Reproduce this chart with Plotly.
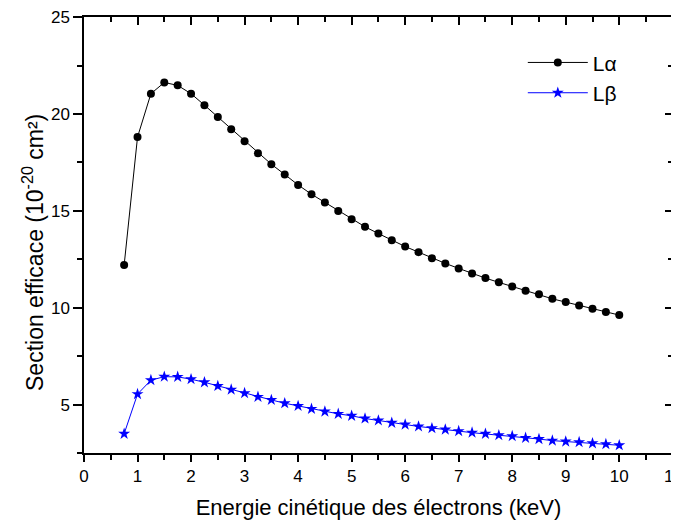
import plotly.graph_objects as go

energy = [0.75, 1.0, 1.25, 1.5, 1.75, 2.0, 2.25, 2.5, 2.75, 3.0, 3.25, 3.5, 3.75, 4.0,
          4.25, 4.5, 4.75, 5.0, 5.25, 5.5, 5.75, 6.0, 6.25, 6.5, 6.75, 7.0, 7.25, 7.5,
          7.75, 8.0, 8.25, 8.5, 8.75, 9.0, 9.25, 9.5, 9.75, 10.0]

l_alpha = [12.2, 18.81, 21.05, 21.63, 21.48, 21.05, 20.46, 19.85, 19.21, 18.59, 17.97,
           17.41, 16.88, 16.34, 15.86, 15.43, 15.0, 14.57, 14.18, 13.83, 13.49, 13.16,
           12.87, 12.56, 12.29, 12.03, 11.77, 11.53, 11.31, 11.1, 10.88, 10.69, 10.46,
           10.29, 10.12, 9.95, 9.78, 9.62]

l_beta = [3.49, 5.54, 6.26, 6.44, 6.43, 6.31, 6.15, 5.96, 5.77, 5.59, 5.40, 5.24, 5.07,
          4.93, 4.78, 4.64, 4.52, 4.42, 4.28, 4.18, 4.06, 3.97, 3.87, 3.78, 3.71, 3.63,
          3.55, 3.49, 3.42, 3.37, 3.28, 3.22, 3.14, 3.09, 3.06, 3.0, 2.96, 2.9]

x_ticks = list(range(0, 12))
y_ticks = [5, 10, 15, 20, 25]
x_range = [0, 11.004]
y_range = [2.5, 25.01]

FONT = "Liberation Sans, Arial"

fig = go.Figure()
fig.add_trace(go.Scatter(
    x=energy, y=l_alpha, mode="lines+markers", name="L\u03b1",
    line=dict(color="black", width=1),
    marker=dict(symbol="circle", size=8, color="black"),
))
fig.add_trace(go.Scatter(
    x=energy, y=l_beta, mode="lines+markers", name="L\u03b2",
    line=dict(color="#0000ff", width=1),
    marker=dict(symbol="star", size=9, color="#0000ff"),
))
# empty trace so that the top / right frame axes get drawn
fig.add_trace(go.Scatter(x=[], y=[], xaxis="x2", yaxis="y2", showlegend=False,
                         hoverinfo="skip"))

base = dict(showline=True, linecolor="black", linewidth=1.5, tickwidth=1.5,
            tickcolor="black", showgrid=False, zeroline=False, automargin=False)

# bottom / left axes: ticks pointing outward
fig.update_layout(
    xaxis=dict(range=x_range, tickvals=x_ticks, ticks="outside", ticklen=7,
               ticklabeloverflow="allow",
               tickfont=dict(family=FONT, size=17, color="black"),
               minor=dict(ticks="outside", ticklen=5, tickwidth=1.5, dtick=0.5,
                          tickcolor="black", showgrid=False),
               title=dict(text="Energie cinétique des électrons (keV)",
                          font=dict(family=FONT, size=22, color="black"), standoff=14),
               **base),
    yaxis=dict(range=y_range, tickvals=y_ticks, ticks="outside", ticklen=9,
               ticklabeloverflow="allow",
               tickfont=dict(family=FONT, size=17, color="black"),
               minor=dict(ticks="outside", ticklen=5, tickwidth=1.5, dtick=2.5, tick0=0,
                          tickcolor="black", showgrid=False),
               **base),
    # top / right axes: ticks pointing into the plot
    xaxis2=dict(range=x_range, tickvals=x_ticks, overlaying="x", side="top", anchor="y2",
                ticks="inside", ticklen=8, showticklabels=False,
                minor=dict(ticks="inside", ticklen=5, tickwidth=1.5, dtick=0.5,
                           tickcolor="black", showgrid=False),
                **base),
    yaxis2=dict(range=y_range, tickvals=y_ticks, overlaying="y", side="right", anchor="x2",
                ticks="inside", ticklen=8, showticklabels=False,
                minor=dict(ticks="inside", ticklen=5, tickwidth=1.5, dtick=2.5, tick0=0,
                           tickcolor="black", showgrid=False),
                **base),
)

fig.add_annotation(
    text="Section efficace (10<sup>-20</sup> cm²)", textangle=-90,
    xref="paper", yref="paper", x=-0.0866, y=0.461, xanchor="center", yanchor="middle",
    showarrow=False, font=dict(family=FONT, size=23, color="black"),
)

# page body has an 8px margin, so the figure is shrunk by 8px on each axis
fig.update_layout(
    width=671, height=514,
    margin=dict(l=76, r=6, t=9, b=69),
    plot_bgcolor="white", paper_bgcolor="white",
    legend=dict(x=0.745, y=0.942, xanchor="left", yanchor="top",
                font=dict(family=FONT, size=21, color="black"),
                bgcolor="rgba(0,0,0,0)", tracegroupgap=0, itemwidth=60),
)

fig.write_html("out.html")
